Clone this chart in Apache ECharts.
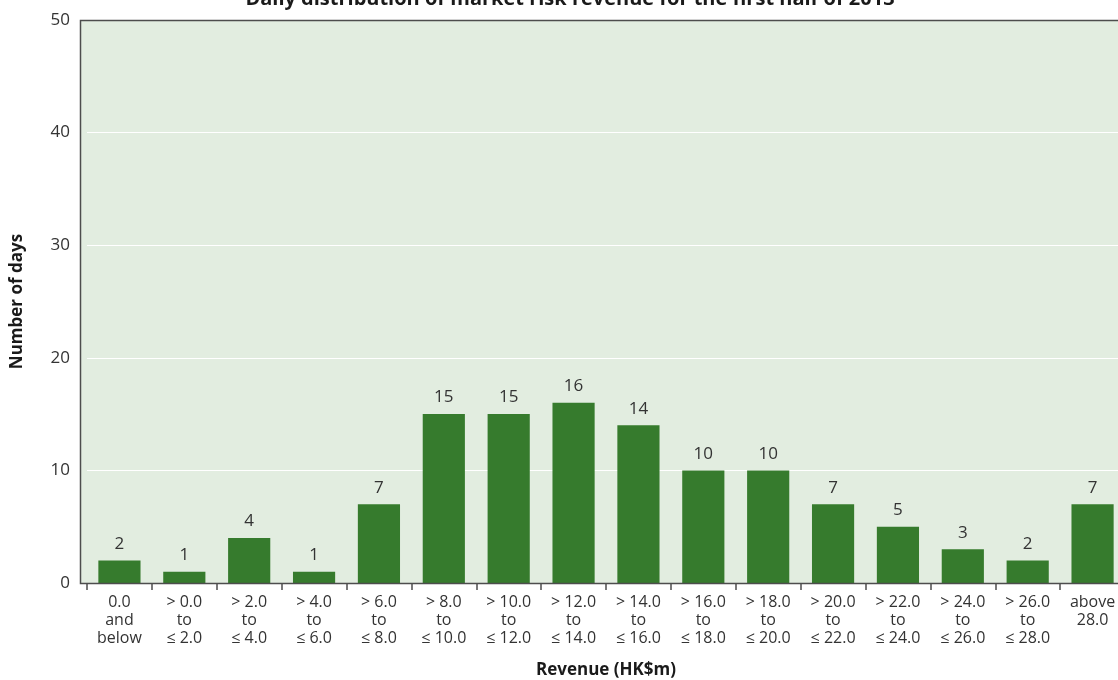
<!DOCTYPE html>
<html>
<head>
<meta charset="utf-8">
<script src="https://cdn.jsdelivr.net/npm/echarts@6/dist/echarts.min.js"></script>
<style>
  html, body { margin: 0; padding: 0; background: #ffffff; }
  #chart { width: 1118px; height: 680px; }
</style>
</head>
<body>
<div id="chart"></div>
<script>
// Revenue buckets (HK$m) and number of trading days in each
const categories = [
  '0.0\nand\nbelow', '> 0.0\nto\n≤ 2.0', '> 2.0\nto\n≤ 4.0', '> 4.0\nto\n≤ 6.0',
  '> 6.0\nto\n≤ 8.0', '> 8.0\nto\n≤ 10.0', '> 10.0\nto\n≤ 12.0', '> 12.0\nto\n≤ 14.0',
  '> 14.0\nto\n≤ 16.0', '> 16.0\nto\n≤ 18.0', '> 18.0\nto\n≤ 20.0', '> 20.0\nto\n≤ 22.0',
  '> 22.0\nto\n≤ 24.0', '> 24.0\nto\n≤ 26.0', '> 26.0\nto\n≤ 28.0', 'above\n28.0'
];
const days = [2, 1, 4, 1, 7, 15, 15, 16, 14, 10, 10, 7, 5, 3, 2, 7];
const yTicks = [0, 10, 20, 30, 40, 50];

const titleText = 'Daily distribution of market risk revenue for the first half of 2013';
const FONT = '"Open Sans", "DejaVu Sans", sans-serif';
const TEXT = '#333333';
const FRAME = '#4d4d4d';
const PLOT_BG = '#e2ede0';
const BAR = '#367b2d';

// layout
const W = 1118, H = 680;
const frameLeft = 80;      // where the value axis line sits
const gridLeft = 87;       // first category starts a little right of the frame
const gridRight = -7;
const gridTop = 20;
const gridBottom = 97;
const plotBottom = H - gridBottom;

const chart = echarts.init(document.getElementById('chart'), null, { renderer: 'canvas' });

chart.setOption({
  animation: false,
  backgroundColor: '#ffffff',
  textStyle: { fontFamily: FONT },
  grid: {
    left: gridLeft, right: gridRight, top: gridTop, bottom: gridBottom,
    containLabel: false, outerBoundsMode: 'none'
  },
  graphic: [
    {
      type: 'rect', z: -10, silent: true,
      shape: { x: frameLeft, y: gridTop, width: W - frameLeft + 20, height: plotBottom - gridTop },
      style: { fill: PLOT_BG }
    },
    {
      type: 'polyline', z: 50, silent: true,
      shape: { points: [[W + 20, gridTop + 0.5], [frameLeft + 0.5, gridTop + 0.5], [frameLeft + 0.5, plotBottom + 0.5], [W + 20, plotBottom + 0.5]] },
      style: { stroke: FRAME, lineWidth: 1.5, fill: null }
    },
    {
      type: 'text', silent: true,
      style: {
        text: titleText, x: 570, y: 9, align: 'center', verticalAlign: 'bottom',
        font: 'bold 20px ' + FONT, fill: '#1a1a1a'
      }
    }
  ],
  xAxis: {
    type: 'category',
    data: categories,
    name: 'Revenue (HK$m)',
    nameLocation: 'middle',
    nameGap: 79,
    nameTextStyle: { fontFamily: FONT, fontSize: 17, fontWeight: 'bold', color: '#1a1a1a' },
    axisLine: { show: false },
    axisTick: { show: true, length: 7, lineStyle: { color: FRAME, width: 1.5 } },
    axisLabel: { interval: 0, margin: 10, fontFamily: FONT, fontSize: 16, lineHeight: 18, color: TEXT, align: 'center' },
    splitLine: { show: false }
  },
  yAxis: {
    type: 'value',
    min: yTicks[0],
    max: yTicks[yTicks.length - 1],
    interval: yTicks[1] - yTicks[0],
    offset: gridLeft - frameLeft,
    name: 'Number of days',
    nameLocation: 'middle',
    nameGap: 54,
    nameRotate: 90,
    nameTextStyle: { fontFamily: FONT, fontSize: 17, fontWeight: 'bold', color: '#1a1a1a' },
    axisLine: { show: false },
    axisTick: { show: false },
    axisLabel: { margin: 10, fontFamily: FONT, fontSize: 17, color: TEXT },
    splitLine: { show: true, lineStyle: { color: '#ffffff', width: 1.2 } }
  },
  series: [{
    type: 'bar',
    data: days,
    barCategoryGap: '35%',
    itemStyle: { color: BAR },
    label: {
      show: true, position: 'top', distance: 8,
      fontFamily: FONT, fontSize: 17, color: TEXT
    }
  }]
});
</script>
</body>
</html>
